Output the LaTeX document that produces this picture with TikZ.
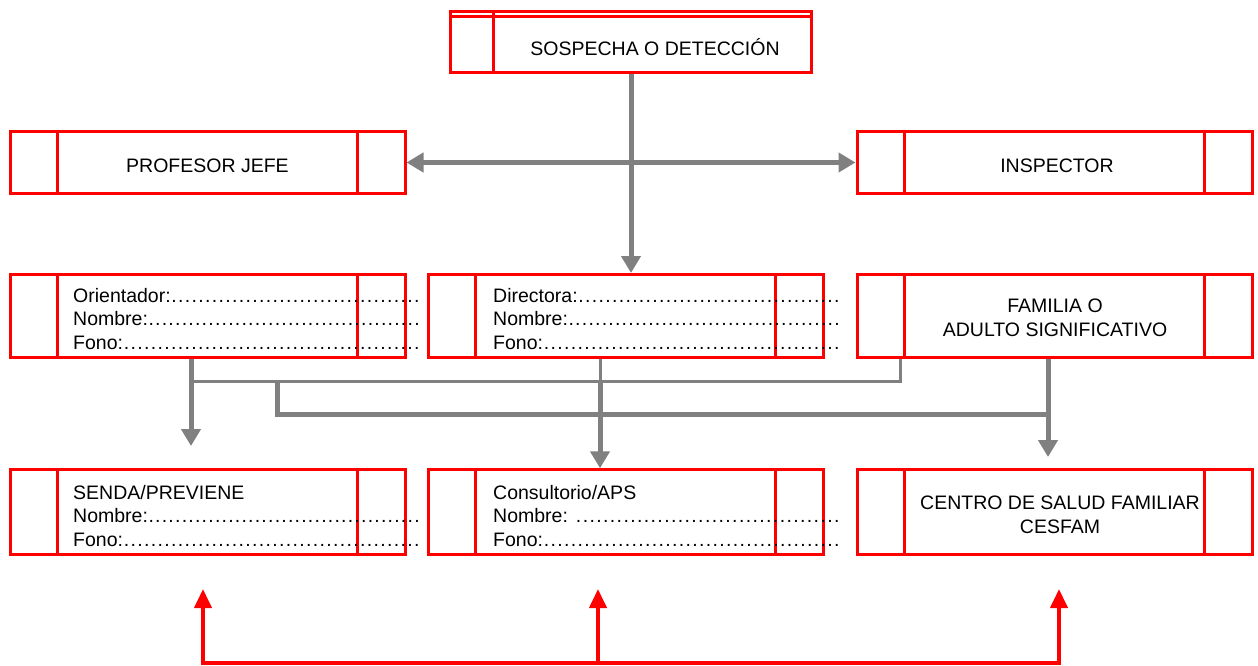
\documentclass[tikz,border=0pt]{standalone}
\usepackage{fontspec}
\setmainfont{Liberation Sans}
\usetikzlibrary{arrows.meta}

\newcommand{\puntos}{\xleaders\hbox to 0.34em{\hss.\hss}\hfill}
\newcommand{\campo}[1]{\makebox[347pt][l]{#1\puntos}}

\begin{document}
\begin{tikzpicture}[x=1pt,y=-1pt,
  every node/.style={font=\fontsize{19.5}{23.5}\selectfont, inner sep=0pt},
  caja/.style={draw=red, line width=3pt, minimum width=395pt},
  borde/.style={red, line width=3pt},
  linea/.style={draw=gray, line width=3pt},
  gruesa/.style={draw=gray, line width=5pt},
  flecha/.style={gruesa, -{Triangle[length=17pt,width=19pt]}},
  roja/.style={draw=red, line width=4pt}]
  \useasboundingbox (0,0) rectangle (1258,666);

  % caja superior
  \node[caja, minimum width=361pt, minimum height=61pt] (sosp) at (631,42) {};
  \draw[borde] ([yshift=-7pt]sosp.north west) -- ([yshift=-7pt]sosp.north east);
  \draw[borde] ([xshift=44pt]sosp.north west) -- ([xshift=44pt]sosp.south west);
  \node[anchor=base] (sosp-t) at (655,56) {SOSPECHA O DETECCIÓN};

  % cajas con celdas a los lados
  \foreach \n/\x/\y/\h in {prof/207.5/162.5/62, insp/1054.5/162.5/62,
      orient/207.5/316/83, direc/625.5/316/83, fam/1054.5/316/83,
      senda/207.5/512/84.5, consul/625.5/512/84.5, cesfam/1054.5/512/84.5}{
    \node[caja, minimum height=\h pt] (\n) at (\x,\y) {};
    \draw[borde] ([xshift=49pt]\n.north west) -- ([xshift=49pt]\n.south west);
    \draw[borde] ([xshift=-49pt]\n.north east) -- ([xshift=-49pt]\n.south east);
  }

  % textos (base = ultima linea)
  \node[anchor=base] (prof-t) at (207.5,172) {PROFESOR JEFE};
  \node[anchor=base] (insp-t) at (1057,172) {INSPECTOR};
  \node[anchor=base west, align=left] (orient-t) at (73,349)
    {\campo{Orientador:}\\ \campo{Nombre:}\\ \campo{Fono:}};
  \node[anchor=base west, align=left] (direc-t) at (493,349)
    {\campo{Directora:}\\ \campo{Nombre:}\\ \campo{Fono:}};
  \node[anchor=base, align=center] (fam-t) at (1055,336)
    {FAMILIA O\\ADULTO SIGNIFICATIVO};
  \node[anchor=base west, align=left] (senda-t) at (73,546)
    {SENDA/PREVIENE\\ \campo{Nombre:}\\ \campo{Fono:}};
  \node[anchor=base west, align=left] (consul-t) at (493,546)
    {Consultorio/APS\\ \campo{Nombre: }\\ \campo{Fono:}};
  \node[anchor=base, align=center] (cesfam-t) at (1060,533)
    {CENTRO DE SALUD FAMILIAR\\CESFAM};

  % flechas grises
  \draw[flecha] (sosp.south) -- (sosp.south |- direc.north);
  \draw[gruesa, {Triangle[length=17pt,width=19pt]}-{Triangle[length=17pt,width=19pt]}]
    (prof.east) -- (insp.west);

  \coordinate (j1) at (191,381);
  \coordinate (j2) at (600,381);
  \coordinate (j3) at (277,381);
  \coordinate (j4) at (1048,414);
  \coordinate (j5) at (900,381);
  \draw[linea] (fam.south -| j5) -- (j5) -- (j1);
  \draw[linea] (direc.south -| j2) -- (j2);
  \draw[gruesa] (j3) |- (j4);
  \draw[flecha] (orient.south -| j1) -- ++(0,87);
  \draw[flecha] (j2) -- (consul.north -| j2);
  \draw[flecha] (fam.south -| j4) -- ++(0,98);

  % flechas rojas
  \coordinate (r1) at (203,663);
  \coordinate (r2) at (598,663);
  \coordinate (r3) at (1059,663);
  \draw[roja, {Triangle[length=19pt,width=17pt]}-{Triangle[length=19pt,width=17pt]}]
    ([yshift=74pt]r1) -- (r1) -- (r3) -- ([yshift=74pt]r3);
  \draw[roja, -{Triangle[length=19pt,width=17pt]}] (r2) -- ++(0,-74);
\end{tikzpicture}
\end{document}
